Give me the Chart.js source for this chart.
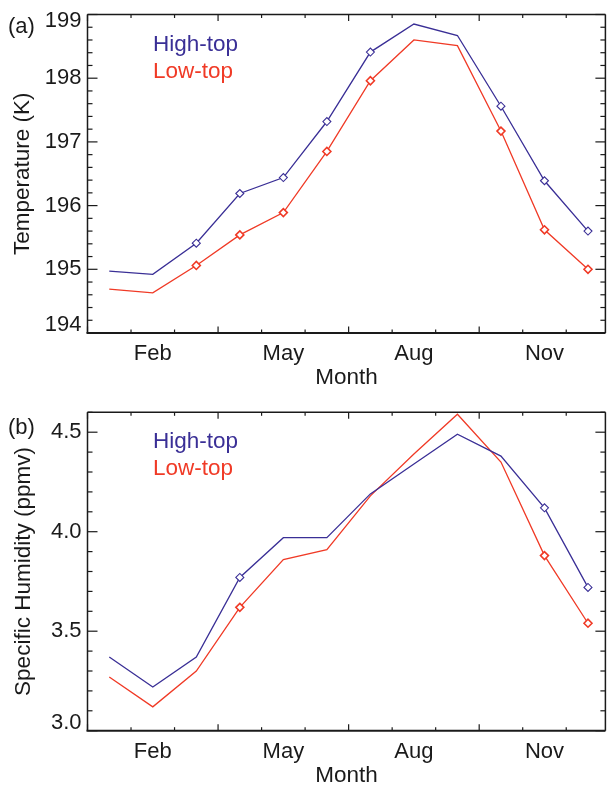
<!DOCTYPE html>
<html>
<head>
<meta charset="utf-8">
<script src="https://cdn.jsdelivr.net/npm/chart.js@4.4.1/dist/chart.umd.min.js"></script>
<style>
  html, body { margin: 0; padding: 0; background: #fff; }
  #wrap { position: relative; width: 611px; height: 786px; }
  .panel { position: absolute; left: 0; width: 611px; }
  #tempPanel { top: 0; height: 395px; }
  #humPanel { top: 395px; height: 391px; }
</style>
</head>
<body>
<div id="wrap">
  <div class="panel" id="tempPanel"><canvas id="tempChart" width="611" height="395"></canvas></div>
  <div class="panel" id="humPanel"><canvas id="humChart" width="611" height="391"></canvas></div>
</div>
<script>
// monthly values, Jan..Dec
const months = [1, 2, 3, 4, 5, 6, 7, 8, 9, 10, 11, 12];
const monthNames = ['Jan', 'Feb', 'Mar', 'Apr', 'May', 'Jun', 'Jul', 'Aug', 'Sep', 'Oct', 'Nov', 'Dec'];
const labelMonths = [2, 5, 8, 11];

const tempHigh = [194.97, 194.92, 195.41, 196.19, 196.44, 197.32, 198.41, 198.85, 198.67, 197.56, 196.39, 195.60];
const tempLow  = [194.69, 194.63, 195.06, 195.54, 195.89, 196.85, 197.96, 198.60, 198.51, 197.17, 195.62, 195.00];
const tempTicks = [194, 195, 196, 197, 198, 199];
// 1 = month gets a diamond marker
const tempMarkHigh = [0, 0, 1, 1, 1, 1, 1, 0, 0, 1, 1, 1];
const tempMarkLow  = [0, 0, 1, 1, 1, 1, 1, 0, 0, 1, 1, 1];

const humHigh = [3.37, 3.22, 3.37, 3.77, 3.97, 3.97, 4.19, 4.34, 4.49, 4.38, 4.12, 3.72];
const humLow  = [3.27, 3.12, 3.30, 3.62, 3.86, 3.91, 4.18, 4.39, 4.59, 4.35, 3.88, 3.54];
const humTicks = [3.0, 3.5, 4.0, 4.5];
const humMarkHigh = [0, 0, 0, 1, 0, 0, 0, 0, 0, 0, 1, 1];
const humMarkLow  = [0, 0, 0, 1, 0, 0, 0, 0, 0, 0, 1, 1];

const BLUE = '#3a2f96';
const RED = '#f03a26';
const INK = '#1a1a1a';
const FONT = '"Liberation Sans", Arial, Helvetica, sans-serif';

function series(label, values, marks, color, bw) {
  return {
    label: label,
    data: months.map((m, i) => ({ x: m, y: values[i] })),
    borderColor: color,
    borderWidth: 1.3,
    tension: 0,
    pointStyle: 'rectRot',
    pointRadius: ctx => marks[ctx.dataIndex] ? 4 : 0,
    pointBorderColor: color,
    pointBackgroundColor: '#fff',
    pointBorderWidth: bw
  };
}

// box, inward tick marks, y labels and the free text of each panel
const idlFrame = {
  id: 'idlFrame',
  afterDraw(chart, args, o) {
    const { ctx, chartArea: a, scales: { x, y } } = chart;
    const seg = (x1, y1, x2, y2) => { ctx.beginPath(); ctx.moveTo(x1, y1); ctx.lineTo(x2, y2); ctx.stroke(); };
    ctx.save();
    ctx.strokeStyle = INK;
    ctx.lineWidth = 1.2;
    for (let v = 0.5; v <= x.max + 1e-6; v += 1) {
      const px = x.getPixelForValue(v);
      const len = Math.round(v - 0.5) % 3 === 0 ? 6.5 : 3.5;
      seg(px, a.bottom, px, a.bottom - len);
      seg(px, a.top, px, a.top + len);
    }
    const n = Math.round((y.max - y.min) / o.yMinor);
    for (let i = 0; i <= n; i++) {
      const v = y.min + i * o.yMinor;
      const py = y.getPixelForValue(v);
      const r = v / o.yMajor;
      const len = Math.abs(r - Math.round(r)) < 1e-6 ? 10 : 5;
      seg(a.left, py, a.left + len, py);
      seg(a.right, py, a.right - len, py);
    }
    ctx.lineWidth = 1.5;
    seg(a.left, a.top, a.right, a.top);
    seg(a.left, a.top, a.left, a.bottom);
    seg(a.right, a.top, a.right, a.bottom);
    ctx.lineWidth = 2;
    seg(a.left - 1, a.bottom, a.right, a.bottom);

    ctx.font = '22px ' + FONT;
    ctx.textBaseline = 'middle';
    ctx.fillStyle = INK;

    // y labels, end labels kept inside the box
    ctx.textAlign = 'right';
    y.ticks.forEach(t => {
      const py = Math.min(Math.max(y.getPixelForValue(t.value), a.top + 6), a.bottom - 8);
      ctx.fillText(t.value.toFixed(o.digits), a.left - 6, py);
    });

    ctx.textAlign = 'left';
    ctx.fillText(o.tag, o.tagX, o.tagY);

    ctx.font = '22.5px ' + FONT;
    ctx.textAlign = 'center';
    ctx.fillText('Month', (a.left + a.right) / 2, o.monthY);

    chart.data.datasets.forEach((ds, i) => {
      ctx.fillStyle = ds.borderColor;
      ctx.textAlign = 'left';
      ctx.fillText(ds.label, o.legendX, o.legendY[i]);
    });

    ctx.fillStyle = INK;
    ctx.translate(o.titleX, (a.top + a.bottom) / 2);
    ctx.rotate(-Math.PI / 2);
    ctx.textAlign = 'center';
    ctx.textBaseline = 'alphabetic';
    ctx.fillText(o.title, 0, 0);
    ctx.restore();
  }
};

function makeChart(id, datasets, yMin, yMax, ticks, xHeight, padTop, frame) {
  return new Chart(document.getElementById(id), {
    type: 'line',
    data: { datasets: datasets },
    plugins: [idlFrame],
    options: {
      responsive: false,
      animation: false,
      devicePixelRatio: 1,
      layout: { padding: { top: padTop, right: 1, left: 0, bottom: 0 } },
      plugins: { legend: { display: false }, tooltip: { enabled: false }, idlFrame: frame },
      scales: {
        x: {
          type: 'linear', min: 0.5, max: 12.4,
          grid: { display: false, drawTicks: false },
          border: { display: false },
          afterBuildTicks: s => { s.ticks = labelMonths.map(v => ({ value: v })); },
          afterFit: s => { s.height = xHeight; },
          ticks: {
            autoSkip: false, maxRotation: 0, padding: 8, color: INK,
            font: { family: FONT, size: 22 },
            callback: v => monthNames[v - 1]
          }
        },
        y: {
          min: yMin, max: yMax,
          grid: { display: false, drawTicks: false },
          border: { display: false },
          afterBuildTicks: s => { s.ticks = ticks.map(v => ({ value: v })); },
          afterFit: s => { s.width = 87.5; },
          ticks: { display: false }
        }
      }
    }
  });
}

makeChart('tempChart', [
  series('High-top', tempHigh, tempMarkHigh, BLUE, 1.1),
  series('Low-top', tempLow, tempMarkLow, RED, 1.6)
], 194, 199, tempTicks, 62, 14.5, {
  yMinor: 0.2, yMajor: 1, digits: 0, tag: '(a)', tagX: 8, tagY: 27, monthY: 378,
  legendX: 153, legendY: [45, 71.5],
  title: 'Temperature (K)', titleX: 29
});

makeChart('humChart', [
  series('High-top', humHigh, humMarkHigh, BLUE, 1.1),
  series('Low-top', humLow, humMarkLow, RED, 1.6)
], 3.0, 4.6, humTicks, 55.3, 17.3, {
  yMinor: 0.1, yMajor: 0.5, digits: 1, tag: '(b)', tagX: 8, tagY: 33, monthY: 381,
  legendX: 153, legendY: [46.5, 74],
  title: 'Specific Humidity (ppmv)', titleX: 30
});
</script>
</body>
</html>
